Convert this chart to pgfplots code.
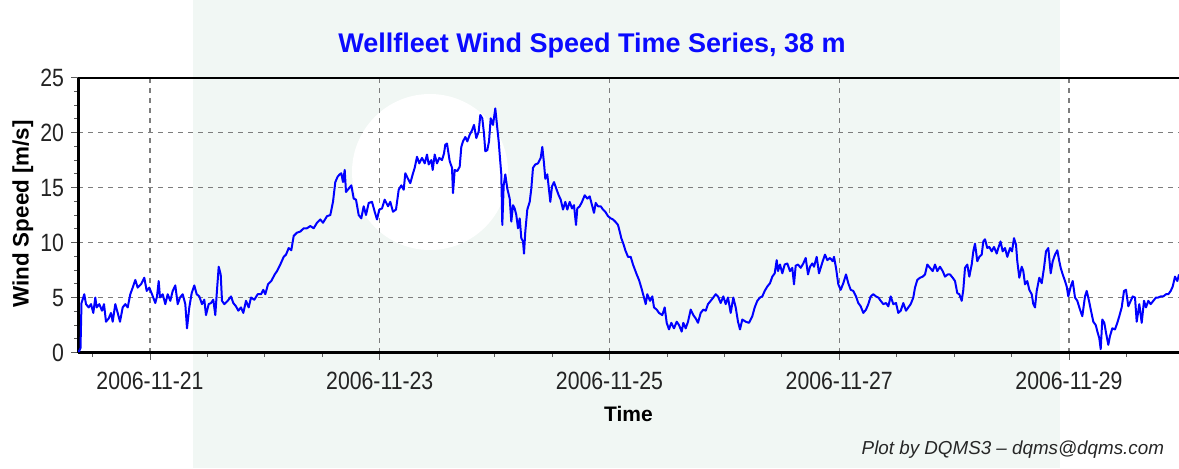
\documentclass[border=0pt]{standalone}
\usepackage{pgfplots}
\pgfplotsset{compat=1.18}
\usepackage{fontspec}
\setmainfont{Liberation Sans}
\definecolor{mint}{RGB}{241,247,244}
\definecolor{tickgray}{RGB}{35,35,35}
\definecolor{gridgray}{RGB}{125,125,125}
\definecolor{titleblue}{RGB}{10,10,255}

\pgfplotstableread{
px speed
78 0.2
79 0.1
80.5 0.4
81.5 4.5
84.3 5.3
86 4.4
88.7 4.1
91 4.4
93.3 3.6
95.3 5.0
96.7 4.1
99.3 4.4
102 3.8
104 4.4
106 2.8
108.7 3.1
111 3.6
112.7 2.8
115.3 4.4
117.7 3.6
120 2.8
122.7 4.1
125.3 4.4
127.7 4.1
130.3 5.3
132.7 5.9
135.3 6.6
137.7 5.9
141 6.2
144.3 6.8
146.7 5.6
149.3 5.9
152 5.3
155.3 4.5
157 5.1
158.7 6.5
160 5.0
162.7 5.3
165.3 4.4
167.7 5.3
170.3 4.7
172.7 5.6
175.3 6.1
177.7 4.4
180 5.0
182.7 5.3
185.3 4.4
187 2.2
189.3 4.1
191.7 5.4
194.3 6.1
196.7 5.3
199.3 5.1
202 4.4
204.3 4.8
206 3.4
208.7 4.4
211 4.5
213.3 4.8
215.3 3.4
216.7 5.3
218.7 7.8
220.7 7.1
222 4.7
224.3 4.4
227.7 4.7
231 5.1
233.3 4.5
236 4.2
238.3 3.8
241 4.1
243.3 3.6
246 4.7
248.7 4.1
251 5.0
254.3 4.8
257.7 5.3
261 5.3
263.3 5.7
265.3 5.3
268 6.2
271.3 6.5
274.7 7.1
277 7.4
280.3 8.0
283.7 8.7
286 8.9
288.7 9.5
291.3 9.3
293.7 10.6
297 10.9
300.3 11.0
303.7 11.3
307 11.3
310.3 11.5
313.7 11.3
317 11.8
320.3 12.1
323 11.8
327 12.4
330.3 12.5
333 13.7
335.3 15.5
337.7 16.0
339.7 16.2
341.3 16.3
343 15.5
344.7 16.6
346 14.6
348.7 14.9
351.3 15.2
353.7 14.0
356 13.9
358.7 12.5
361.3 12.2
363.7 13.3
366 12.5
368.7 13.6
372 13.7
374.7 12.8
377 12.1
379.3 13.0
382 13.1
384.7 13.9
388 13.3
390.3 13.7
393 12.8
396 13.0
398.7 14.8
401.3 15.2
403.7 14.8
405.3 16.3
408 15.8
410.3 15.4
412.7 16.2
414.7 16.8
417 17.8
419.3 17.2
422 17.7
424.7 17.2
427 18.0
428.7 17.1
431.3 17.5
432.7 16.6
434.7 18.0
437 17.2
439.3 17.7
442 17.5
444 18.1
445.3 18.9
447 19.0
449.7 17.4
452 16.8
453 14.5
454.7 16.6
457.3 16.5
459.7 16.9
461.3 18.7
463 19.2
465.3 19.6
467.3 19.2
469.7 19.8
472 20.2
474 20.7
476.3 19.5
478.7 20.1
480.3 21.6
482.3 21.3
484 19.9
485.3 18.3
487.3 18.4
489 19.2
490.7 21.3
493 20.7
495.3 22.2
497.3 20.4
498.7 19.2
499.7 18.0
501.3 16.2
502.3 11.6
503.7 15.2
505.3 16.2
507.3 14.9
509.7 14.0
511.3 11.9
513 13.4
514.7 13.1
516.3 12.5
518 11.3
519.7 12.2
521.3 10.4
523 10.1
524 9.0
525.3 11.0
527.3 13.0
529.7 13.7
531.3 14.9
533 16.8
535.3 17.1
538 17.2
540.7 17.7
542.3 18.7
544 17.2
545.3 15.8
547.3 16.2
549 14.8
550.3 13.7
552 15.1
554 15.5
556.3 14.9
558.7 14.3
560.7 13.9
563 13.0
565.3 13.7
567.3 13.0
569.7 13.7
572 13.1
574 13.4
576 11.6
577.3 13.1
579.7 13.3
582 13.7
584.7 14.3
587.3 14.0
589.7 14.2
592 13.4
594 12.7
595.7 13.6
598 13.3
600.7 13.3
603 13.0
605.3 12.8
608 12.4
610.7 12.2
613 12.1
615.3 11.9
618 11.6
619.7 11.0
621.3 10.4
623.7 9.8
625.3 9.3
628 8.7
630.7 8.7
633 8.0
636.7 7.1
639 6.6
641.3 5.9
644 5.0
645.7 4.4
647.3 5.3
650 4.7
652.3 5.1
654 4.1
656.7 3.9
659 3.6
662.3 3.4
664.7 4.1
666.7 2.7
669 2.1
671.3 2.7
674 2.2
676.7 2.8
679 2.5
681.7 1.9
683.3 2.7
685.7 2.2
688 2.8
690.7 3.9
693.3 3.4
695.7 3.1
698 2.7
700.7 3.6
703.3 3.9
705.7 3.8
708 4.4
710.7 4.7
713.3 5.0
715.7 5.3
718 5.1
720.7 4.5
723.3 5.1
725.7 4.4
728 5.0
730.7 3.6
733.3 5.0
735.7 4.1
738 2.8
740 2.1
742.3 3.0
745.7 2.8
749 2.7
752.3 3.3
754.7 4.1
757.3 4.7
760 5.0
762.3 5.1
764.7 5.6
767.3 6.0
770 6.3
772.3 6.9
774.7 7.2
776.7 8.4
778 7.4
780 8.0
782.3 7.2
784.7 8.0
787.3 8.1
790 7.4
792.3 7.7
794 6.2
795.7 7.9
798 8.0
800.7 7.7
803.3 8.1
805.7 8.6
808 7.1
810 7.8
812.3 8.1
814 7.8
816.7 8.7
819 7.2
822.7 8.3
825 8.9
827.3 8.4
830 8.6
832.7 8.3
834 8.7
836 7.7
838.3 6.2
840.7 5.7
843.3 6.3
846 7.1
848.3 6.3
850.7 5.7
853.3 5.6
856 5.1
858.3 4.5
860.7 4.2
863.3 3.6
866 3.9
868.3 4.4
870.7 5.1
873.3 5.3
876 5.1
878.3 5.0
880.7 4.7
883.3 4.4
886 4.5
888.3 4.2
890.7 5.1
893.3 4.4
896 4.5
898.3 3.6
900.7 3.8
903.3 4.5
906 3.8
908.3 4.1
910.7 4.4
913.3 5.0
915 5.9
917.3 6.6
920 6.8
922.7 6.9
925 7.1
927.3 8.0
930 7.7
932.7 7.4
935 8.0
937.3 7.4
940 7.8
942.7 7.4
945 6.9
947.7 7.1
950 7.1
952.7 6.8
955 6.5
957.3 5.4
959.3 5.3
961.7 4.7
963.3 5.7
965 7.7
967.3 8.0
969.3 6.9
971.7 8.0
973.3 9.2
975 9.9
977.3 8.3
979.3 8.7
981.7 8.9
983.3 10.1
985 10.3
987.3 9.5
989.3 9.6
991.7 9.2
994 9.6
996.7 9.0
998.3 9.5
1000.5 10.1
1002.7 9.2
1005 9.5
1007.3 8.7
1010 9.5
1012 9.2
1014 10.4
1016 9.8
1017.3 8.3
1019.3 6.8
1021.7 7.8
1023.3 7.4
1025 6.2
1027.3 6.5
1029.3 5.7
1031.7 5.3
1033.3 4.4
1035 4.1
1036.7 5.6
1039.3 6.8
1041.7 6.3
1044 7.7
1046 9.2
1048.3 9.5
1050.7 7.2
1052.7 8.3
1055 8.9
1057.3 9.3
1059.3 8.3
1060.7 7.7
1062.7 7.1
1065 6.5
1066.7 6.0
1068.3 5.1
1070.7 6.0
1072.7 6.5
1075 5.0
1077.3 4.7
1080 3.9
1082.3 3.3
1085 5.1
1086.7 5.6
1089 4.7
1091 3.8
1093.3 2.8
1095.7 2.5
1097.7 1.8
1099.3 1.3
1100.7 0.3
1102.3 3.0
1104.3 2.7
1106 1.8
1108.3 0.7
1110 1.5
1112.3 2.2
1115 2.1
1117.3 2.7
1119.3 3.3
1121.7 4.1
1124 5.6
1126 5.7
1128.3 4.2
1130.7 4.7
1132.7 5.1
1135 5.0
1136.7 2.8
1139.3 4.4
1141.7 2.7
1144 4.7
1146 4.1
1148.3 4.7
1150.7 4.4
1153.3 4.7
1156 5.0
1158.3 5.0
1160.7 5.1
1163.3 5.1
1166 5.3
1168.3 5.3
1170.7 5.6
1172.7 6.0
1175 6.9
1177.3 6.5
1179 7.1
}\windtable

\begin{document}
\begin{tikzpicture}
\begin{scope}[shift={(0pt,234pt)}, x=0.5pt, y=-0.5pt]
\fill[white] (0,0) rectangle (1179,468);
\fill[mint] (193,0) rectangle (1060,468);
\fill[white] (430,172) circle (78);
\end{scope}
\begin{axis}[
  at={(39pt,57.75pt)}, anchor=south west,
  scale only axis, width=550.5pt, height=137.45pt,
  xmin=78, xmax=1179, ymin=0, ymax=25,
  axis lines*=left,
  axis line style={-, line width=1.5pt, black},
  clip mode=individual,
  xtick={150,379.75,609.5,839.25,1069},
  xticklabels={\scalebox{0.85}[1]{2006-11-21},\scalebox{0.85}[1]{2006-11-23},\scalebox{0.85}[1]{2006-11-25},\scalebox{0.85}[1]{2006-11-27},\scalebox{0.85}[1]{2006-11-29}},
  minor xtick={92.6,207.4,264.9,322.3,437.2,494.6,552.1,667,724.4,781.8,896.7,954.1,1011.6,1126.4},
  ytick={0,5,10,15,20,25},
  yticklabel={\scalebox{0.85}[1]{\pgfmathprintnumber{\tick}}},
  minor y tick num=3,
  grid=major,
  major grid style={gridgray, dash pattern=on 2.5pt off 2.5pt, line width=0.6pt},
  tick align=outside,
  major tick length=3.5pt, minor tick length=2pt,
  tick style={black!65, line width=0.5pt},
  ticklabel style={font=\fontsize{12.5}{14}\selectfont, text=tickgray},
  xticklabel style={yshift=-2.5pt},
  /pgf/number format/assume math mode=true,
  xlabel={Time}, ylabel={Wind Speed [m/s]},
  xlabel style={font=\bfseries\fontsize{10.5}{12}\selectfont, at={(axis description cs:0.5,-0.224)}, anchor=center},
  ylabel style={font=\bfseries\fontsize{11.2}{13}\selectfont, at={(axis description cs:-0.05,0.504)}, anchor=center},
]
\addplot[color=blue, line width=1pt, no markers, line join=round] table[x=px, y=speed] {\windtable};
\draw[line width=1pt, black] (rel axis cs:0,1) -- (rel axis cs:1,1);
\end{axis}
\node[font=\bfseries\fontsize{13.5}{16}\selectfont, text=titleblue] at (296pt,211pt) {Wellfleet Wind Speed Time Series, 38 m};
\node[font=\itshape\fontsize{9.4}{11}\selectfont, anchor=east, text=black!85] at (585.5pt,9pt) {Plot by DQMS3 -- dqms@dqms.com};
\pgfresetboundingbox
\path[use as bounding box] (0,0) rectangle (589.5pt,234pt);
\end{tikzpicture}
\end{document}
